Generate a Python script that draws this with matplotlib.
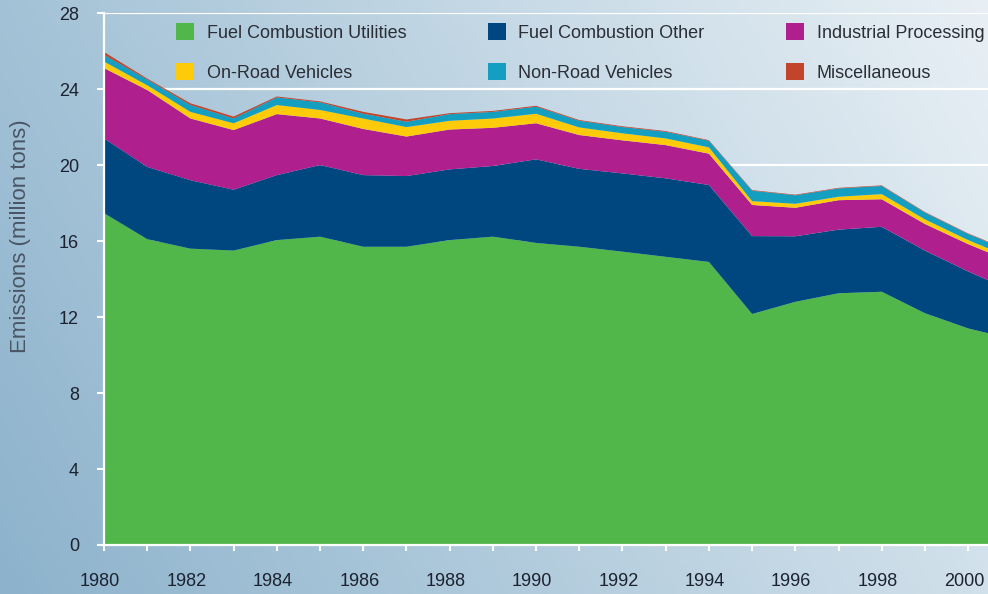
import matplotlib.pyplot as plt
import matplotlib.transforms as mtransforms
import numpy as np

plt.rcParams['font.family'] = ['Liberation Sans', 'DejaVu Sans']

# data (million tons)
years = list(range(1980, 2002))
fuel_utilities = [17.47, 16.1, 15.6, 15.5, 16.05, 16.23, 15.7, 15.7, 16.05, 16.23, 15.9,
                  15.7, 15.44, 15.17, 14.9, 12.16, 12.8, 13.25, 13.33, 12.2, 11.4, 10.85]
fuel_other = [3.93, 3.8, 3.6, 3.2, 3.42, 3.77, 3.77, 3.72, 3.72, 3.72, 4.4,
              4.1, 4.12, 4.13, 4.05, 4.1, 3.45, 3.35, 3.42, 3.3, 3.0, 2.55]
industrial = [3.7, 4.05, 3.25, 3.14, 3.21, 2.45, 2.43, 2.08, 2.1, 2.01, 1.9,
              1.78, 1.74, 1.75, 1.65, 1.64, 1.5, 1.55, 1.45, 1.4, 1.44, 1.5]
on_road = [0.35, 0.25, 0.35, 0.36, 0.48, 0.45, 0.55, 0.5, 0.46, 0.49, 0.5,
           0.4, 0.37, 0.35, 0.33, 0.2, 0.21, 0.18, 0.27, 0.24, 0.21, 0.2]
non_road = [0.35, 0.3, 0.36, 0.25, 0.4, 0.4, 0.25, 0.28, 0.35, 0.35, 0.37,
            0.35, 0.33, 0.35, 0.35, 0.55, 0.45, 0.44, 0.43, 0.36, 0.32, 0.35]
misc = [0.15, 0.05, 0.09, 0.1, 0.05, 0.05, 0.1, 0.12, 0.05, 0.05, 0.05,
        0.04, 0.04, 0.04, 0.03, 0.03, 0.03, 0.03, 0.03, 0.03, 0.03, 0.03]

labels = ["Fuel Combustion Utilities", "Fuel Combustion Other", "Industrial Processing",
          "On-Road Vehicles", "Non-Road Vehicles", "Miscellaneous"]
colors = ["#52b74a", "#00477f", "#b01f8e", "#fdcb0a", "#149fc0", "#c1442b"]

fig = plt.figure(figsize=(9.88, 5.94), dpi=100)

# gradient background
bg = fig.add_axes([0, 0, 1, 1])
gx = np.linspace(0, 1, 256)
gy = np.linspace(0, 1, 128)
X, Y = np.meshgrid(gx, gy)
c0 = np.array([0.55, 0.70, 0.80])
c1 = np.array([0.91, 0.94, 0.96])
t = np.clip(0.75 * X + 0.25 * Y, 0, 1)[..., None]
img = c0 * (1 - t) + c1 * t
bg.imshow(img, origin='lower', extent=[0, 1, 0, 1], aspect='auto')
bg.axis('off')

ax = fig.add_axes([0.1053, 0.0825, 0.8947, 0.8955])
ax.set_facecolor('none')

polys = ax.stackplot(years, fuel_utilities, fuel_other, industrial, on_road, non_road, misc,
                     colors=colors, labels=labels, linewidth=0, zorder=2)

ax.set_xlim(1980, 2000.46)
ax.set_ylim(0, 28)
ax.set_yticks(range(0, 29, 4))
ax.set_xticks(range(1980, 2001, 2))
ax.set_xticks(range(1980, 2001), minor=True)
ax.grid(axis='y', color='white', linewidth=1.6, zorder=1)
ax.set_axisbelow(True)

for s in ['top', 'right']:
    ax.spines[s].set_visible(False)
for s in ['left', 'bottom']:
    ax.spines[s].set_color('white')
    ax.spines[s].set_linewidth(1.6)
    ax.spines[s].set_zorder(3)

ax.tick_params(axis='y', colors='white', length=5, width=1.5, pad=13,
               labelcolor='#1c2230', labelsize=13)
ax.tick_params(axis='x', which='both', colors='white', length=4.5, width=1.5, pad=16,
               labelcolor='#1c2230', labelsize=13)

shift = mtransforms.ScaledTranslation(-4 / 100, 0, fig.dpi_scale_trans)
for lab in ax.get_xticklabels():
    lab.set_transform(lab.get_transform() + shift)

ax.set_ylabel("Emissions (million tons)", fontsize=16, color='#4a5565')
ax.yaxis.set_label_coords(-0.0826, 0.58)

# legend: column-wise order for 3 columns x 2 rows
order = [0, 3, 1, 4, 2, 5]
leg = ax.legend([polys[i] for i in order], [labels[i] for i in order],
                ncol=3, frameon=False, loc='upper left', bbox_to_anchor=(0.0735, 0.994),
                fontsize=13, handlelength=1.0, handleheight=1.0, handletextpad=0.7,
                columnspacing=4.5, labelspacing=1.2, borderaxespad=0)
for txt in leg.get_texts():
    txt.set_color('#2a2e36')

fig.savefig("out.png", dpi=100)
